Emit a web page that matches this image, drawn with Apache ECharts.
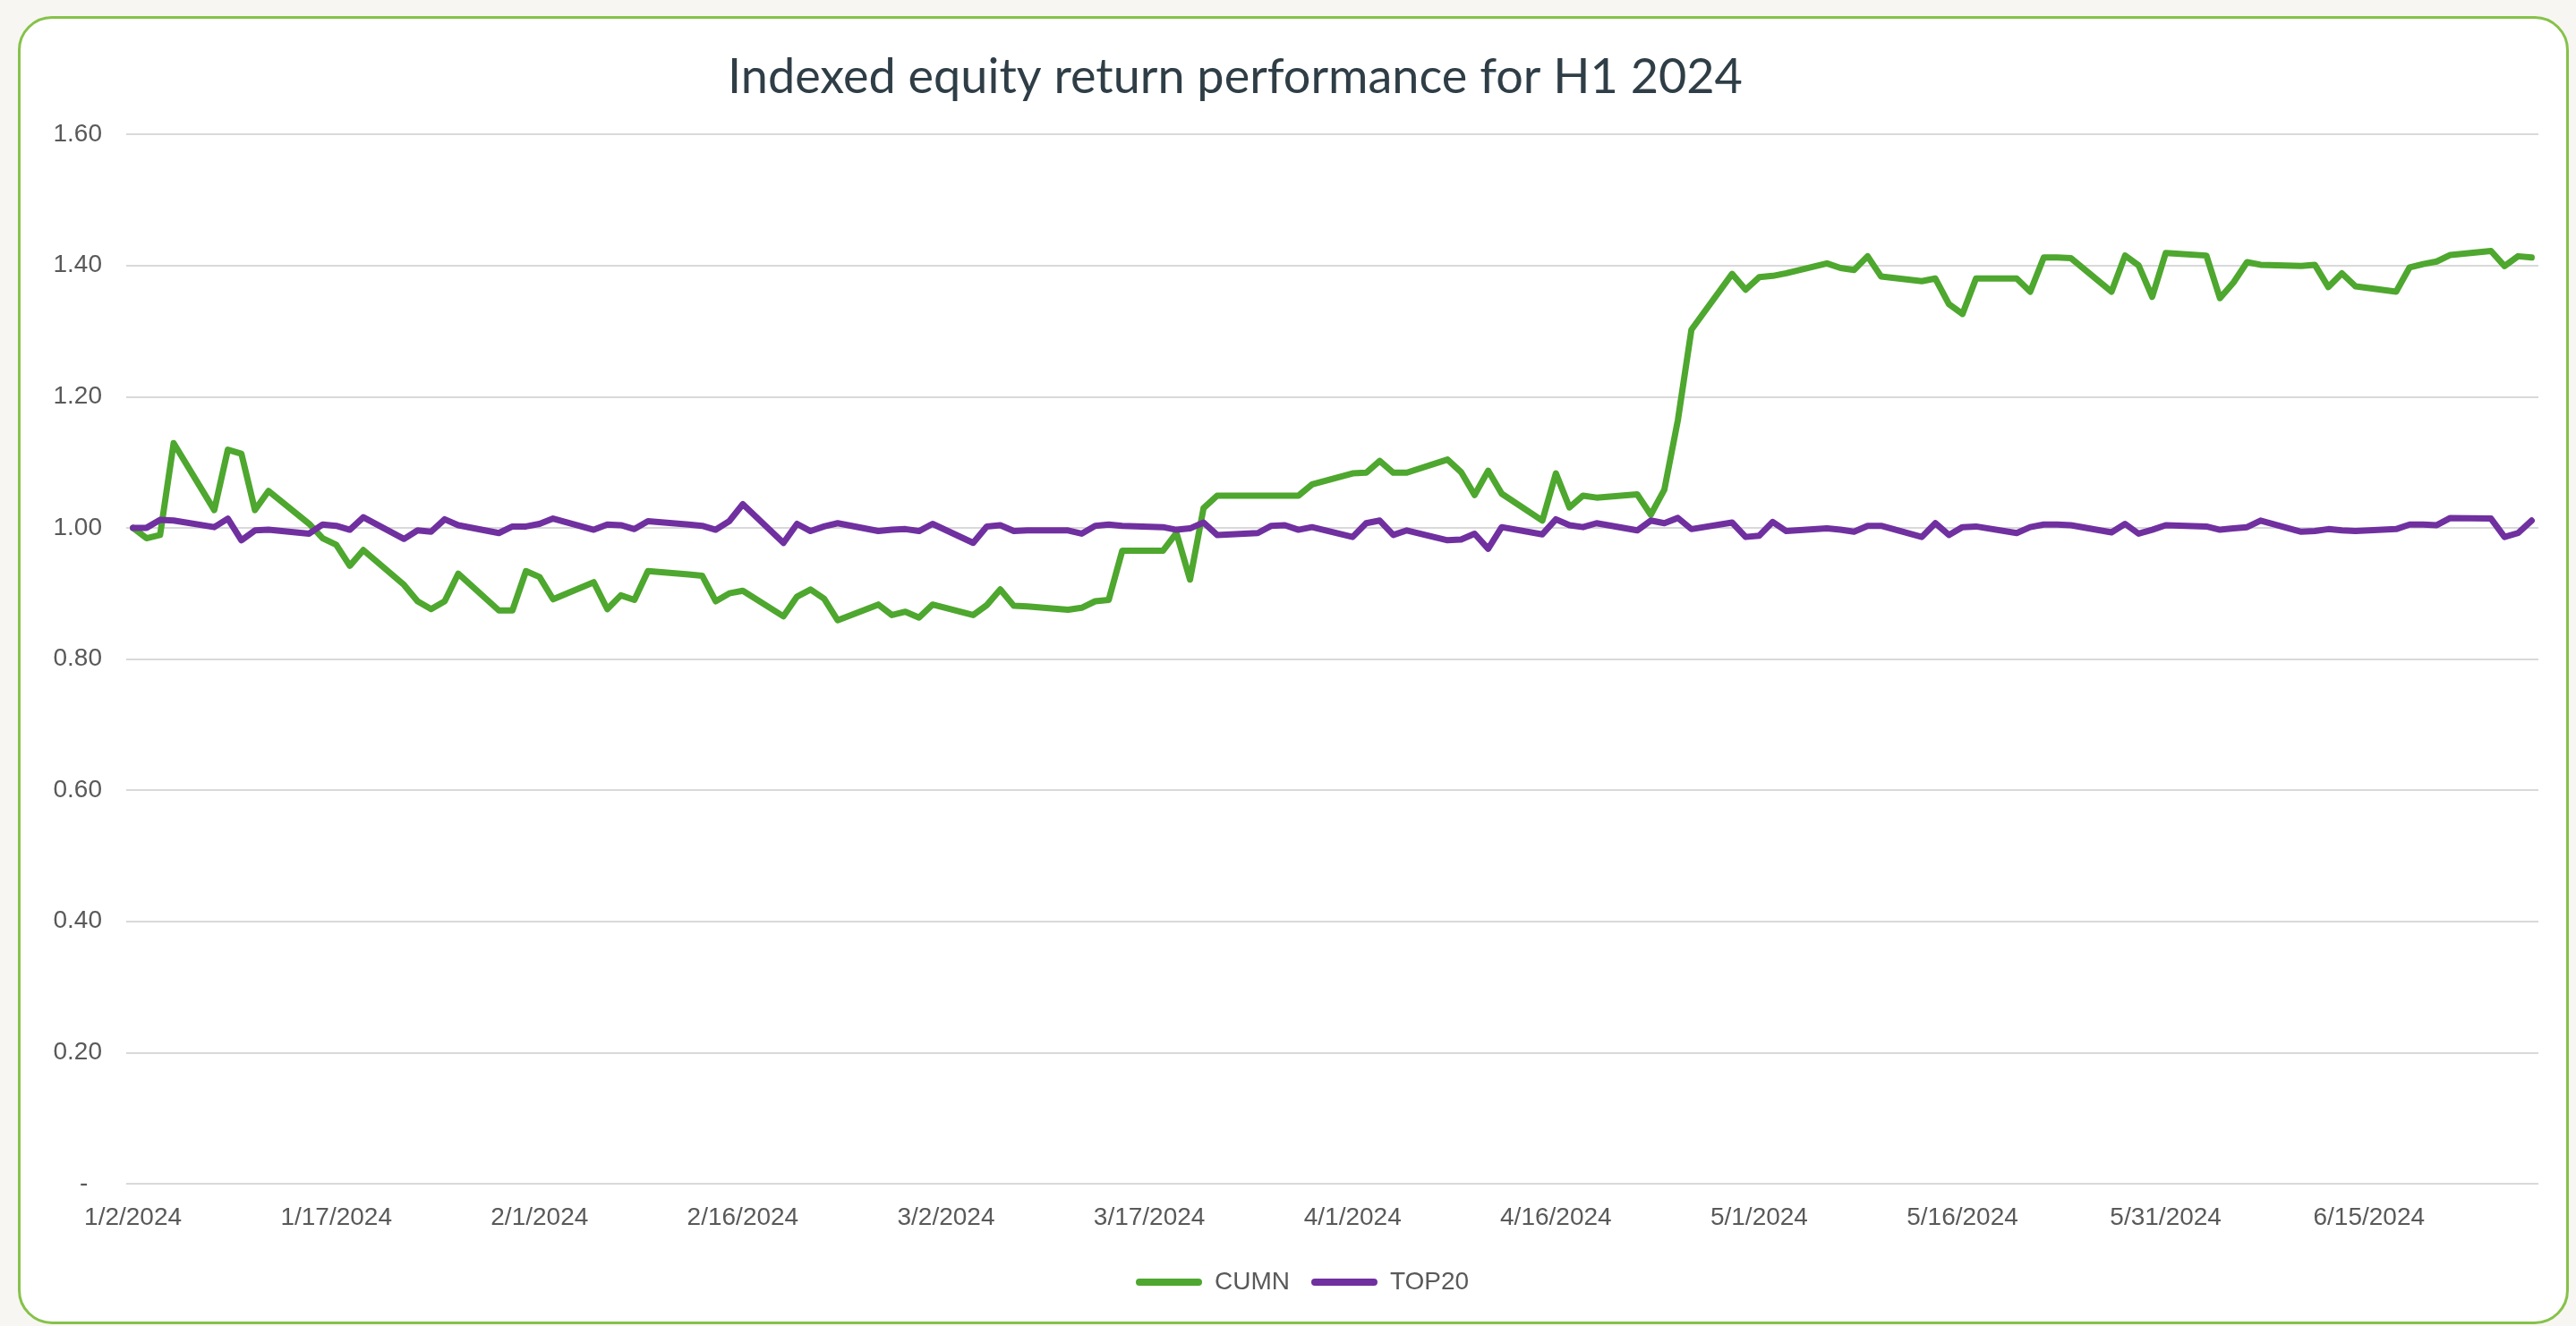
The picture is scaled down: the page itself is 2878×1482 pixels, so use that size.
<!DOCTYPE html>
<html>
<head>
<meta charset="utf-8">
<title>Indexed equity return performance for H1 2024</title>
<script src="https://cdn.jsdelivr.net/npm/echarts@6/dist/echarts.min.js"></script>
<style>
    html,
    body {
        margin: 0;
        padding: 0;
        width: 2878px;
        height: 1482px;
        overflow: hidden;
        background: #f7f6f2;
    }

    #card {
        position: absolute;
        left: 20px;
        top: 18px;
        width: 2844px;
        height: 1456px;
        border: 3px solid #86c24a;
        border-radius: 38px;
        background: #fff;
    }

    #chart {
        position: absolute;
        left: 0;
        top: 0;
        width: 2878px;
        height: 1482px;
    }
</style>
</head>
<body>
<div id="card"></div>
<div id="chart"></div>
<script>
// axis: calendar days from 1/2/2024, a label every 15 days
const firstDay = [2024, 0, 2];
const dayCount = 178;
const labelEvery = 15;
const yTicks = [0, 0.2, 0.4, 0.6, 0.8, 1.0, 1.2, 1.4, 1.6];

// one value per weekday (Mon-Fri), in date order
const cumn = [
    // Jan
    1.000, 0.984, 0.989, 1.129, 1.027, 1.119, 1.113, 1.027, 1.056, 1.006, 0.984,
    0.974, 0.942, 0.966, 0.913, 0.888, 0.876, 0.888, 0.930, 0.874, 0.874, 0.934,
    // Feb
    0.925, 0.891, 0.917, 0.876, 0.897, 0.890, 0.934, 0.929, 0.927, 0.888, 0.900,
    0.904, 0.865, 0.895, 0.906, 0.892, 0.859, 0.883, 0.867, 0.872, 0.863,
    // Mar
    0.883, 0.867, 0.882, 0.906, 0.881, 0.880, 0.875, 0.878, 0.888, 0.890, 0.965,
    0.965, 0.992, 0.921, 1.030, 1.049, 1.049, 1.049, 1.049, 1.049, 1.066,
    // Apr
    1.083, 1.084, 1.102, 1.084, 1.084, 1.104, 1.085, 1.050, 1.087, 1.052, 1.011,
    1.083, 1.031, 1.049, 1.046, 1.051, 1.020, 1.058, 1.164, 1.302, 1.387, 1.363,
    // May
    1.382, 1.384, 1.388, 1.403, 1.396, 1.393, 1.414, 1.383, 1.376, 1.380, 1.341, 1.326,
    1.380, 1.380, 1.360, 1.412, 1.412, 1.411, 1.360, 1.415, 1.400, 1.352, 1.419,
    // Jun
    1.415, 1.350, 1.374, 1.405, 1.401, 1.399, 1.401, 1.367, 1.388, 1.368,
    1.360, 1.397, 1.402, 1.406, 1.416, 1.422, 1.399, 1.414, 1.412
];

const top20 = [
    // Jan
    1.000, 1.000, 1.012, 1.011, 1.001, 1.014, 0.981, 0.996, 0.997, 0.991, 1.005,
    1.003, 0.997, 1.016, 0.983, 0.996, 0.994, 1.013, 1.004, 0.992, 1.002, 1.002,
    // Feb
    1.006, 1.014, 0.997, 1.005, 1.004, 0.998, 1.010, 1.005, 1.003, 0.997, 1.010,
    1.036, 0.977, 1.006, 0.995, 1.002, 1.007, 0.995, 0.997, 0.998, 0.995,
    // Mar
    1.006, 0.977, 1.002, 1.004, 0.995, 0.996, 0.996, 0.991, 1.003, 1.005, 1.003,
    1.001, 0.997, 0.999, 1.008, 0.989, 0.992, 1.003, 1.004, 0.997, 1.001,
    // Apr
    0.986, 1.007, 1.011, 0.989, 0.996, 0.981, 0.982, 0.991, 0.968, 1.001, 0.990,
    1.013, 1.004, 1.001, 1.007, 0.996, 1.011, 1.007, 1.015, 0.998, 1.008, 0.986,
    // May
    0.988, 1.009, 0.995, 0.999, 0.997, 0.994, 1.003, 1.003, 0.986, 1.007, 0.989, 1.001,
    1.002, 0.992, 1.001, 1.005, 1.005, 1.004, 0.993, 1.006, 0.991, 0.997, 1.004,
    // Jun
    1.002, 0.997, 0.999, 1.001, 1.011, 0.994, 0.995, 0.998, 0.996, 0.995,
    0.998, 1.005, 1.005, 1.004, 1.015, 1.014, 0.986, 0.992, 1.011
];

// spread the weekday values over the calendar, weekends left empty
const days = [];
const cumnData = [];
const top20Data = [];
let k = 0;
for (let i = 0; i < dayCount; i++) {
    const d = new Date(Date.UTC(firstDay[0], firstDay[1], firstDay[2] + i));
    days.push((d.getUTCMonth() + 1) + '/' + d.getUTCDate() + '/' + d.getUTCFullYear());
    const wd = d.getUTCDay();
    if (wd === 0 || wd === 6) {
        cumnData.push(null);
        top20Data.push(null);
    } else {
        cumnData.push(cumn[k]);
        top20Data.push(top20[k]);
        k++;
    }
}

const labelFont = '"Liberation Sans", Arial, sans-serif';
const legendIcon = 'path://M4,0H70A4,4,0,0,1,70,8H4A4,4,0,0,1,4,0Z';

var myChart = echarts.init(document.getElementById('chart'));

myChart.setOption({
    animation: false,
    title: {
        text: 'Indexed equity return performance for H1 2024',
        left: 1375,
        top: 55,
        textAlign: 'center',
        textStyle: {
            fontFamily: 'Lato, "Noto Sans", sans-serif',
            fontWeight: 'normal',
            fontSize: 54,
            color: '#2f3e46'
        }
    },
    legend: {
        data: ['CUMN', 'TOP20'],
        left: 1264,
        top: 1414,
        icon: legendIcon,
        itemWidth: 74,
        itemHeight: 8,
        itemGap: 24,
        textStyle: {
            fontFamily: labelFont,
            fontSize: 28,
            color: '#595959',
            padding: [0, 0, 0, 9]
        }
    },
    grid: {
        left: 141,
        right: 42,
        top: 150,
        bottom: 159,
        containLabel: false
    },
    xAxis: {
        type: 'category',
        data: days,
        boundaryGap: true,
        axisLine: { show: false },
        axisTick: { show: false },
        axisLabel: {
            interval: labelEvery - 1,
            margin: 24,
            fontFamily: labelFont,
            fontSize: 28,
            color: '#595959'
        },
        splitLine: { show: false }
    },
    yAxis: {
        type: 'value',
        min: yTicks[0],
        max: yTicks[yTicks.length - 1],
        interval: yTicks[1] - yTicks[0],
        axisLine: { show: false },
        axisTick: { show: false },
        axisLabel: {
            margin: 27,
            fontFamily: labelFont,
            fontSize: 28,
            color: '#595959',
            formatter: function (v) {
                return v === 0 ? '-  ' : v.toFixed(2);
            }
        },
        splitLine: {
            show: true,
            lineStyle: { color: '#d9d9d9', width: 2 }
        }
    },
    series: [
        {
            name: 'CUMN',
            type: 'line',
            data: cumnData,
            connectNulls: true,
            symbol: 'none',
            color: '#4ea72e',
            lineStyle: { width: 7, color: '#4ea72e', cap: 'round', join: 'round' },
            emphasis: { disabled: true }
        },
        {
            name: 'TOP20',
            type: 'line',
            data: top20Data,
            connectNulls: true,
            symbol: 'none',
            color: '#7030a0',
            lineStyle: { width: 7, color: '#7030a0', cap: 'round', join: 'round' },
            emphasis: { disabled: true }
        }
    ]
});
</script>
</body>
</html>
